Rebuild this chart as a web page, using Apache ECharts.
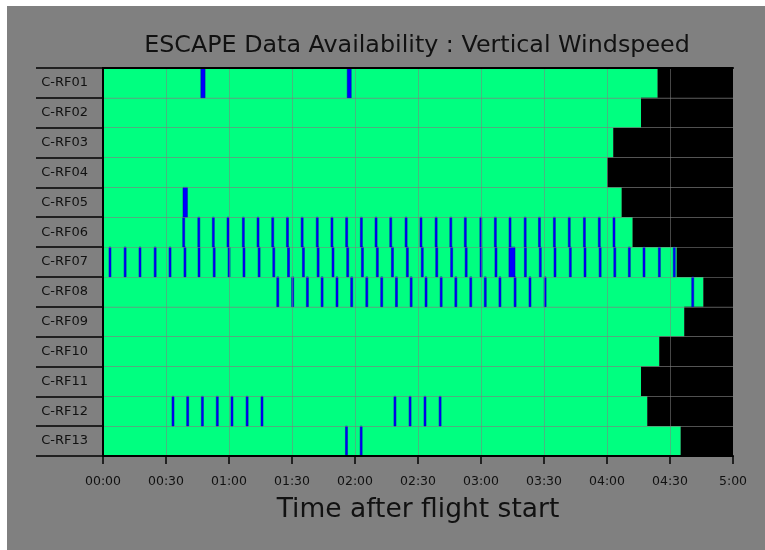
<!DOCTYPE html>
<html lang="en">
<head>
<meta charset="UTF-8">
<title>ESCAPE Data Availability</title>
<script src="https://cdn.jsdelivr.net/npm/echarts@6/dist/echarts.min.js"></script>
<style>
  html, body { margin: 0; padding: 0; background: #ffffff; }
  #chart { position: absolute; left: 7px; top: 6px; width: 758px; height: 544px; }
</style>
</head>
<body>
<div id="chart"></div>
<script>
// flights, top to bottom
var flights = ['C-RF01', 'C-RF02', 'C-RF03', 'C-RF04', 'C-RF05', 'C-RF06', 'C-RF07',
               'C-RF08', 'C-RF09', 'C-RF10', 'C-RF11', 'C-RF12', 'C-RF13'];

// flight length in minutes after start
var flightEnd = [264.1, 256.2, 243.0, 240.1, 247.0, 252.2, 273.2, 285.9, 276.8, 264.9, 256.2, 259.2, 275.1];

// missing data, minutes: a number is a short dropout, a pair is [start, end]
var gapsRF01 = [[46.6, 48.6], [116.3, 118.2]];
var gapsRF02 = [];
var gapsRF03 = [];
var gapsRF04 = [];
var gapsRF05 = [[38.1, 40.2]];
var gapsRF06 = [38.4, 45.6, 52.5, 59.5, 66.8, 73.8, 80.8, 87.8, 94.8, 102.0, 109.0, 116.0, 123.0,
                130.0, 137.0, 144.3, 151.4, 158.6, 165.6, 172.5, 179.9, 186.8, 193.8, 201.0,
                207.8, 214.9, 222.0, 229.2, 236.3, 243.3];
var gapsRF07 = [3.3, 10.5, 17.6, 24.8, 31.9, 39.0, 45.7, 52.9, 60.0, 67.1, 74.3, 81.3, 88.3, 95.4,
                102.4, 109.5, 116.5, 123.5, 130.6, 137.8, 144.9, 152.0, 158.9, 166.0, 172.9, 180.0,
                187.1, [193.3, 196.2], 201.1, 208.2, 215.2, 222.5, 229.5, 236.7, 243.7, 250.6,
                257.6, 264.9, 272.0];
var gapsRF08 = [83.2, 90.3, 97.3, 104.3, 111.4, 118.4, 125.6, 132.7, 139.7, 146.7, 153.8, 161.0,
                168.0, 175.1, 182.0, 189.0, 196.2, 203.3, 210.5, 280.8];
var gapsRF09 = [];
var gapsRF10 = [];
var gapsRF11 = [];
var gapsRF12 = [33.3, 40.3, 47.3, 54.4, 61.4, 68.6, 75.7, 139.0, 146.2, 153.3, 160.5];
var gapsRF13 = [115.9, 122.9];

var allGaps = [gapsRF01, gapsRF02, gapsRF03, gapsRF04, gapsRF05, gapsRF06, gapsRF07,
               gapsRF08, gapsRF09, gapsRF10, gapsRF11, gapsRF12, gapsRF13];

var axisMax = 300;
var xTicks = ['00:00', '00:30', '01:00', '01:30', '02:00', '02:30', '03:00', '03:30', '04:00', '04:30', '5:00'];

var COLORS = ['#00ff80', '#000000', '#0000ff'];

// [start, end, row, kind]  kind 0 = data, 1 = after landing, 2 = missing
var segs = [];
flights.forEach(function (f, i) {
    segs.push([0, flightEnd[i], i, 0]);
    segs.push([flightEnd[i], axisMax, i, 1]);
});
allGaps.forEach(function (g, i) {
    g.forEach(function (v) {
        if (Array.isArray(v)) segs.push([v[0], v[1], i, 2]);
        else segs.push([v - 0.45, v + 0.45, i, 2]);
    });
});

function renderItem(params, api) {
    var row = api.value(2);
    var p0 = api.coord([api.value(0), row]);
    var p1 = api.coord([api.value(1), row]);
    var h = api.size([0, 1])[1];
    var kind = api.value(3);
    var w = p1[0] - p0[0];
    if (kind === 2 && w < 2) w = 2;
    return {
        type: 'rect',
        shape: { x: p0[0], y: p0[1] - h / 2, width: w, height: h },
        style: kind === 2
            ? { fill: COLORS[2], stroke: '#0000b0', lineWidth: 0.5 }
            : { fill: COLORS[kind] }
    };
}

var chart = echarts.init(document.getElementById('chart'));
chart.setOption({
    backgroundColor: '#808080',
    animation: false,
    textStyle: { fontFamily: 'DejaVu Sans' },
    title: {
        text: 'ESCAPE Data Availability : Vertical Windspeed',
        left: 405,
        top: 23,
        textAlign: 'center',
        textStyle: { fontSize: 23.8, fontWeight: 'normal', color: '#111', fontFamily: 'DejaVu Sans' }
    },
    grid: { left: 96, right: 32, top: 62, bottom: 94 },
    xAxis: [{
        type: 'value',
        min: 0,
        max: axisMax,
        interval: 30,
        z: 5,
        name: 'Time after flight start',
        nameLocation: 'middle',
        nameGap: 41,
        nameTextStyle: { fontSize: 26.5, color: '#111', fontFamily: 'DejaVu Sans' },
        axisLine: { show: true, lineStyle: { color: '#000', width: 2 } },
        axisTick: { show: true, length: 8, lineStyle: { color: '#000', width: 1.5 } },
        axisLabel: {
            margin: 19, fontSize: 12.5, color: '#111',
            formatter: function (v) { return xTicks[Math.round(v / 30)]; }
        },
        splitLine: { show: true, lineStyle: { color: 'rgba(128,128,128,0.55)', width: 1 } }
    }, {
        type: 'value',
        position: 'top',
        min: 0,
        max: axisMax,
        z: 5,
        axisLine: { show: true, lineStyle: { color: '#000', width: 2 } },
        axisTick: { show: false },
        axisLabel: { show: false },
        splitLine: { show: false }
    }],
    yAxis: [{
        type: 'category',
        data: flights,
        inverse: true,
        z: 5,
        axisLine: { show: true, lineStyle: { color: '#000', width: 2 } },
        axisTick: { show: true, length: 67, lineStyle: { color: '#000', width: 1.5 } },
        axisLabel: { margin: 15, fontSize: 13, color: '#111' },
        splitLine: { show: true, lineStyle: { color: 'rgba(128,128,128,0.55)', width: 1 } }
    }, {
        type: 'category',
        data: flights,
        inverse: true,
        position: 'right',
        z: 5,
        axisLine: { show: true, lineStyle: { color: '#000', width: 2 } },
        axisTick: { show: false },
        axisLabel: { show: false },
        splitLine: { show: false }
    }],
    series: [{
        type: 'custom',
        z: 1,
        renderItem: renderItem,
        encode: { x: [0, 1], y: 2 },
        data: segs,
        silent: true
    }]
});
</script>
</body>
</html>
